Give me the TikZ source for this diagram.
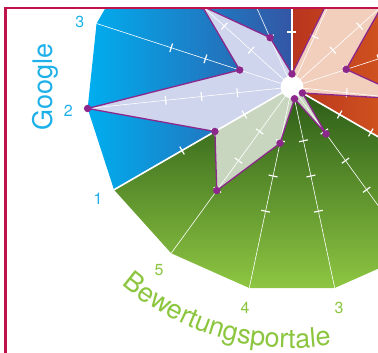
\documentclass[tikz,border=0pt]{standalone}
\usepackage{fontspec}
\setmainfont{TeX Gyre Heros}
\usetikzlibrary{decorations.text}

\definecolor{googlecyan}{RGB}{0,174,239}
\definecolor{googleblue}{RGB}{52,86,164}
\definecolor{bewdark}{RGB}{40,88,22}
\definecolor{bewlight}{RGB}{142,198,66}
\definecolor{reddark}{RGB}{185,52,30}
\definecolor{redlight}{RGB}{236,122,32}
\definecolor{lavtint}{RGB}{206,213,236}
\definecolor{greentint}{RGB}{201,214,191}
\definecolor{peachtint}{RGB}{242,206,188}
\definecolor{datapurple}{RGB}{140,40,140}
\definecolor{framecol}{RGB}{190,20,75}
\definecolor{labcyan}{RGB}{30,176,232}
\definecolor{labgreen}{RGB}{140,198,63}

\newcommand{\catfont}{\fontsize{27}{30}\selectfont}
\newcommand{\numfont}{\fontsize{16}{19}\selectfont}

\tikzset{
  spoke/.style={white, line width=0.6pt},
  border spoke/.style={white, line width=1.6pt},
  tickmark/.style={white, line width=1.2pt},
  dataline/.style={datapurple, line width=1.3pt, line join=round},
  datadot/.style={circle, fill=datapurple, inner sep=0pt, minimum size=7.5pt},
  numlab/.style={font=\numfont, inner sep=0pt},
}

\begin{document}
\begin{tikzpicture}[x=1pt, y=1pt]
  \useasboundingbox (-292,-266) rectangle (86,87);
  \def\R{205.5}
  \coordinate (c) at (0,0);
  \foreach \k in {0,...,14} \coordinate (o\k) at ({90+24*\k}:\R);
  \foreach \rad [count=\k from 0] in {13,54,121,55,205.5,89,128,57.5,12,58,12,121,57,121,150}
    \coordinate (d\k) at ({90+24*\k}:\rad);

  \begin{scope}
    \clip (-285.5,-300) rectangle (150,78);
    % sectors
    \path[left color=googlecyan, right color=googleblue] (c) -- (o0) -- (o1) -- (o2) -- (o3) -- (o4) -- (o5) -- cycle;
    \path[top color=bewdark, bottom color=bewlight] (c) -- (o5) -- (o6) -- (o7) -- (o8) -- (o9) -- (o10) -- cycle;
    \path[left color=reddark, right color=redlight] (c) -- (o10) -- (o11) -- (o12) -- (o13) -- (o14) -- (o0) -- cycle;

    \foreach \sa/\sb/\tint in {90/210/lavtint, 210/330/greentint, 330/450/peachtint} {
      \begin{scope}
        \clip (c) -- (\sa:300) arc[start angle=\sa, end angle=\sb, radius=300] -- cycle;
        \fill[\tint] (d0) \foreach \k in {1,...,14} {-- (d\k)} -- cycle;
      \end{scope}
    }

    \foreach \k in {0,...,14} {
      \draw[spoke] (c) -- (o\k);
      \foreach \t in {55,91,127}
        \draw[tickmark, rotate={90+24*\k}] (\t,-4.5) -- (\t,4.5);
    }
    \foreach \k in {0,5,10} \draw[border spoke] (c) -- (o\k);

    \node[circle, fill=white, minimum size=23pt, inner sep=0pt] (hub) at (c) {};
    \draw[dataline] (d0) \foreach \k in {1,...,14} {-- (d\k)} -- cycle;
    \foreach \k in {0,...,14} \node[datadot] (dot\k) at (d\k) {};
  \end{scope}

  \draw[framecol, line width=2.2pt] (-286.5,-300) rectangle (150,79.2);

  \node[rotate=90, text=labcyan, font=\catfont, inner sep=0pt] (google) at (-247,0) {Google};
  \node[numlab, text=labcyan] (g1) at (210:224) {1};
  \node[numlab, text=labcyan] (g2) at (186:225) {2};
  \node[numlab, text=labcyan] (g3) at (163:222) {3};
  \node[numlab, text=labgreen] (b5) at (234:226) {5};
  \node[numlab, text=labgreen] (b4) at (258:226) {4};
  \node[numlab, text=labgreen] (b3) at (282:226) {3};

  \path[decorate, decoration={text along path, text align=center,
      text={|\catfont\color{labgreen}|Bewertungsportale}}]
    (194:261) arc[start angle=194, end angle=314, radius=261];
\end{tikzpicture}
\end{document}
